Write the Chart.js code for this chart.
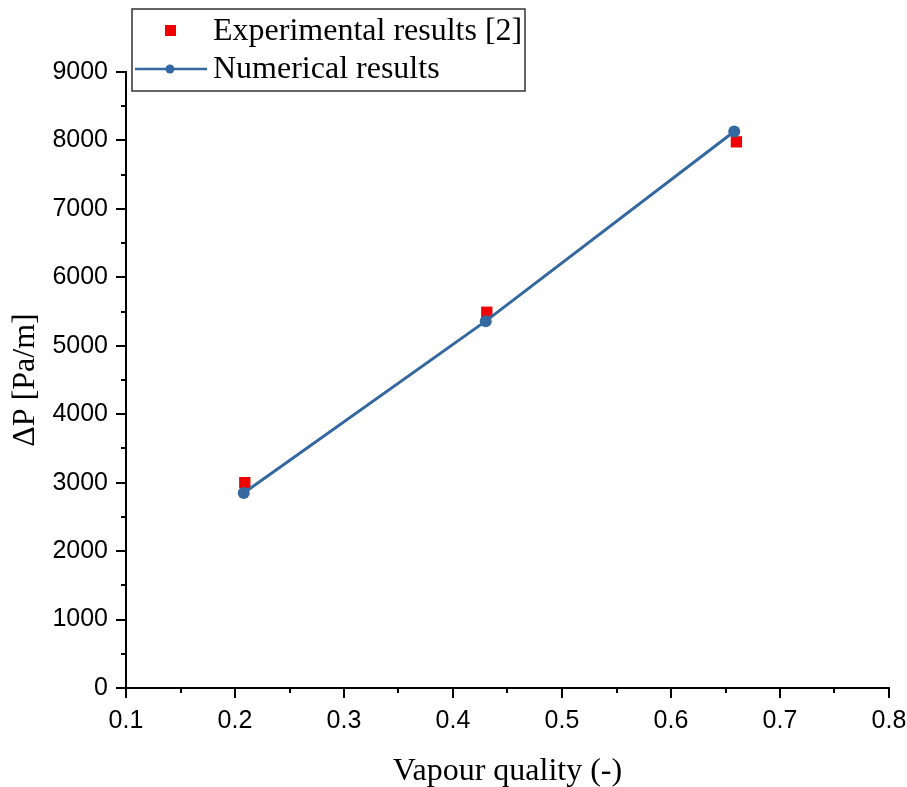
<!DOCTYPE html>
<html>
<head>
<meta charset="utf-8">
<script src="https://cdn.jsdelivr.net/npm/chart.js@4"></script>
<style>
  html, body { margin: 0; padding: 0; background: #fff; }
  #wrap { width: 907px; height: 787px; }
</style>
</head>
<body>
<div id="wrap"><canvas id="dpChart" width="907" height="787"></canvas></div>
<script>
// values
const expQuality = [0.209, 0.431, 0.660];
const expDp = [3000, 5490, 7980];
const numQuality = [0.208, 0.430, 0.658];
const numDp = [2850, 5360, 8130];
const xMinorTicks = [0.15, 0.25, 0.35, 0.45, 0.55, 0.65, 0.75];
const yMinorTicks = [500, 1500, 2500, 3500, 4500, 5500, 6500, 7500, 8500];

const blue = 'rgb(52, 104, 160)';
const red = 'rgb(240, 0, 0)';

const toPoints = (xs, ys) => xs.map((x, i) => ({ x: x, y: ys[i] }));

// short outward ticks between the labelled ones
const minorTicks = {
  id: 'minorTicks',
  afterDraw(chart) {
    const ctx = chart.ctx;
    const xs = chart.scales.x;
    const ys = chart.scales.y;
    ctx.save();
    ctx.strokeStyle = '#000';
    ctx.lineWidth = 2;
    ctx.beginPath();
    xMinorTicks.forEach(v => {
      const px = Math.round(xs.getPixelForValue(v));
      ctx.moveTo(px, ys.bottom);
      ctx.lineTo(px, ys.bottom + 5);
    });
    yMinorTicks.forEach(v => {
      const py = Math.round(ys.getPixelForValue(v));
      ctx.moveTo(xs.left, py);
      ctx.lineTo(xs.left - 5, py);
    });
    ctx.stroke();
    ctx.restore();
  }
};

// boxed legend in the top left corner
const boxLegend = {
  id: 'boxLegend',
  afterDraw(chart) {
    const ctx = chart.ctx;
    ctx.save();
    ctx.fillStyle = '#fff';
    ctx.fillRect(132, 9, 393, 82);
    ctx.strokeStyle = '#333';
    ctx.lineWidth = 1.5;
    ctx.strokeRect(132, 9, 393, 82);

    ctx.fillStyle = red;
    ctx.fillRect(165, 25, 11, 11);

    ctx.strokeStyle = blue;
    ctx.lineWidth = 2.5;
    ctx.beginPath();
    ctx.moveTo(135, 69);
    ctx.lineTo(207, 69);
    ctx.stroke();
    ctx.fillStyle = blue;
    ctx.beginPath();
    ctx.arc(170, 69, 4.5, 0, Math.PI * 2);
    ctx.fill();

    ctx.fillStyle = '#000';
    ctx.font = '32px "Liberation Serif"';
    ctx.textBaseline = 'middle';
    ctx.fillText('Experimental results [2]', 213, 32);
    ctx.fillText('Numerical results', 213, 70);
    ctx.restore();
  }
};

new Chart(document.getElementById('dpChart').getContext('2d'), {
  type: 'scatter',
  data: {
    datasets: [
      {
        label: 'Experimental results [2]',
        data: toPoints(expQuality, expDp),
        pointStyle: 'rect',
        pointRadius: 8,
        pointBackgroundColor: red,
        pointBorderWidth: 0,
        showLine: false,
        order: 2
      },
      {
        label: 'Numerical results',
        data: toPoints(numQuality, numDp),
        showLine: true,
        borderColor: blue,
        borderWidth: 3,
        pointStyle: 'circle',
        pointRadius: 6,
        pointBackgroundColor: blue,
        pointBorderWidth: 0,
        order: 1
      }
    ]
  },
  options: {
    responsive: false,
    animation: false,
    layout: { padding: { left: 0, right: 18, top: 72, bottom: 0 } },
    plugins: {
      legend: { display: false },
      tooltip: { enabled: false }
    },
    scales: {
      x: {
        type: 'linear',
        min: 0.1,
        max: 0.8,
        afterFit: (s) => { s.height = 99; s.paddingLeft = 0; s.paddingRight = 0; },
        ticks: {
          stepSize: 0.1,
          color: '#000',
          padding: 8,
          font: { family: '"Liberation Sans"', size: 25 },
          callback: (v) => v.toFixed(1)
        },
        grid: { drawOnChartArea: false, drawTicks: true, tickLength: 10, color: '#000', lineWidth: 2 },
        border: { display: true, color: '#000', width: 2 },
        title: {
          display: true,
          text: 'Vapour quality (-)',
          color: '#000',
          font: { family: '"Liberation Serif"', size: 32 },
          padding: { top: 0, bottom: -4 }
        }
      },
      y: {
        min: 0,
        max: 9000,
        afterFit: (s) => { s.width = 126; s.paddingTop = 0; s.paddingBottom = 0; },
        ticks: {
          stepSize: 1000,
          color: '#000',
          padding: 8,
          font: { family: '"Liberation Sans"', size: 25 },
          callback: (v) => String(v)
        },
        grid: { drawOnChartArea: false, drawTicks: true, tickLength: 10, color: '#000', lineWidth: 2 },
        border: { display: true, color: '#000', width: 2 },
        title: {
          display: true,
          text: 'ΔP [Pa/m]',
          color: '#000',
          font: { family: '"Liberation Serif"', size: 32 },
          padding: { top: 6, bottom: 0 }
        }
      }
    }
  },
  plugins: [minorTicks, boxLegend]
});
</script>
</body>
</html>
